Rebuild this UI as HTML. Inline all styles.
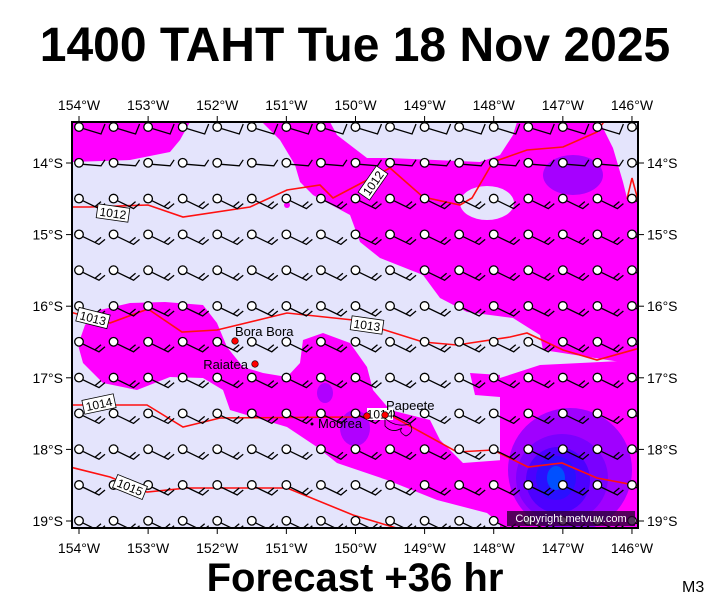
<!DOCTYPE html>
<html><head><meta charset="utf-8"><style>
html,body{margin:0;padding:0;background:#fff;}
svg{display:block;font-family:"Liberation Sans",sans-serif;}
</style></head><body>
<svg id="s" width="711" height="600" viewBox="0 0 711 600" xmlns="http://www.w3.org/2000/svg">
<defs><clipPath id="c"><rect x="72" y="122" width="566" height="406"/></clipPath></defs>
<text x="355" y="61" font-size="48" font-weight="bold" text-anchor="middle">1400 TAHT Tue 18 Nov 2025</text>
<g clip-path="url(#c)">
<rect x="72" y="122" width="566" height="406" fill="#e4e4fc"/>
<g fill="#ff00ff">
<polygon points="72,122 190,122 180,140 170,152 130,160 72,162"/>
<polygon points="262,122 330,122 337,135 367,158 390,158 480,162 500,155 513,135 517,122 600,122 613,148 623,182 627,198 640,200 640,365 543,350 540,335 513,318 467,312 440,298 423,275 380,258 360,242 350,215 313,195 300,182 295,165 280,140"/>
<polygon points="78,345 85,325 100,310 130,303 165,302 203,305 217,323 227,347 243,367 263,373 287,377 300,363 303,340 323,333 350,343 367,367 373,390 390,410 430,420 440,440 463,463 503,460 505,528 487,513 437,500 387,480 337,463 317,447 287,427 230,410 223,390 203,378 170,377 137,390 103,383 83,363"/>
<polygon points="500,378 540,365 640,360 640,528 500,528"/>
<polygon points="470,373 500,375 500,397 475,395"/>
</g>
<ellipse cx="487" cy="203" rx="27" ry="17" fill="#e4e4fc"/>
<ellipse cx="573" cy="175" rx="30" ry="20" fill="#a600ff"/>
<ellipse cx="355" cy="428" rx="15" ry="18" fill="#b000ff"/>
<ellipse cx="325" cy="393" rx="8" ry="10" fill="#b000ff"/>
<ellipse cx="287" cy="205" rx="3" ry="3" fill="#ff00ff"/>
<ellipse cx="570" cy="470" rx="62" ry="62" fill="#a000ff"/>
<ellipse cx="562" cy="478" rx="46" ry="44" fill="#7a00ff"/>
<ellipse cx="558" cy="480" rx="32" ry="33" fill="#4c00ff"/>
<ellipse cx="556" cy="478" rx="20" ry="22" fill="#2a10ff"/>
<ellipse cx="556" cy="478" rx="9" ry="12" fill="#0050ff"/>
<g fill="none" stroke="#ff1010" stroke-width="1.6">
<polyline points="70,207 90,207 148,205 183,217 250,207 287,190 320,185 333,198 390,168 423,197 460,205 472,198 493,162 527,150 563,147 597,132 605,120"/>
<polyline points="70,312 110,323 148,309 182,332 217,330 287,313 353,320 423,342 457,345 510,337 527,333 563,350 597,360 640,348"/>
<polyline points="70,405 147,405 183,427 220,418 353,417 390,415 457,452 493,450 528,467 562,463 597,478 640,486"/>
<polyline points="70,467 110,477 147,492 187,488 287,488 353,515 403,530"/>
<polyline points="627,199 632,178 638,200 627,199"/>
</g>
<g id="barbs" stroke="#000" stroke-width="1.3" fill="none"></g>
<g font-size="12">
<g transform="translate(113,213) rotate(8)"><rect x="-16" y="-7" width="32" height="14" fill="#fff" stroke="#000" stroke-width="0.8"/><text x="0" y="4.5" text-anchor="middle">1012</text></g>
<g transform="translate(373,183) rotate(-55)"><rect x="-16" y="-7" width="32" height="14" fill="#fff" stroke="#000" stroke-width="0.8"/><text x="0" y="4.5" text-anchor="middle">1012</text></g>
<g transform="translate(93,318) rotate(14)"><rect x="-16" y="-7" width="32" height="14" fill="#fff" stroke="#000" stroke-width="0.8"/><text x="0" y="4.5" text-anchor="middle">1013</text></g>
<g transform="translate(367,325) rotate(8)"><rect x="-16" y="-7" width="32" height="14" fill="#fff" stroke="#000" stroke-width="0.8"/><text x="0" y="4.5" text-anchor="middle">1013</text></g>
<g transform="translate(99,404) rotate(-12)"><rect x="-16" y="-7" width="32" height="14" fill="#fff" stroke="#000" stroke-width="0.8"/><text x="0" y="4.5" text-anchor="middle">1014</text></g>
<g transform="translate(130,487) rotate(22)"><rect x="-16" y="-7" width="32" height="14" fill="#fff" stroke="#000" stroke-width="0.8"/><text x="0" y="4.5" text-anchor="middle">1015</text></g>
<g transform="translate(380,414)"><rect x="-13" y="-6" width="26" height="12" fill="#fff"/><text x="0" y="4.5" text-anchor="middle">1014</text></g>
</g>
<g fill="#f00" stroke="#000" stroke-width="0.6">
<circle cx="235" cy="341" r="3.3"/><circle cx="255" cy="364" r="3.3"/><circle cx="367" cy="416" r="3.3"/><circle cx="385" cy="415" r="3.3"/>
</g>
<circle cx="312" cy="424" r="1.5" fill="#000"/>
<path d="M385,418 q10,10 25,6 q5,8 -4,12 q-8,-4 -4,-8 q-10,6 -17,-2z" fill="none" stroke="#000" stroke-width="0.8"/>
<g font-size="13">
<text x="235" y="336">Bora Bora</text>
<text x="248" y="369" text-anchor="end">Raiatea</text>
<text x="318" y="428">Moorea</text>
<text x="386" y="410">Papeete</text>
</g>
<rect x="507" y="511" width="128" height="15" fill="#2a0033" opacity="0.8"/>
<text x="571" y="522" font-size="11" fill="#fff" text-anchor="middle">Copyright metvuw.com</text>
</g>
<rect x="72" y="122" width="566" height="406" fill="none" stroke="#000" stroke-width="2"/>
<g id="ticks" stroke="#000" stroke-width="1"></g>
<g id="labels" font-size="14"></g>
<text x="355" y="591" font-size="40" font-weight="bold" text-anchor="middle">Forecast +36 hr</text>
<text x="682" y="592" font-size="16">M3</text>
</svg>
<script>
var NS="http://www.w3.org/2000/svg";
function el(p,t,a,txt){var e=document.createElementNS(NS,t);for(var k in a)e.setAttribute(k,a[k]);if(txt)e.textContent=txt;document.getElementById(p).appendChild(e);}
for(var r=0;r<12;r++){for(var i=0;i<17;i++){var x=79+34.56*i,y=127+35.8*r;
 if(r<2){el("barbs","path",{d:"M"+(x+4)+","+(y+1.5)+" L"+(x+22)+","+(y+(r==0?7:3))+" L"+(x+26)+","+(y-3)});}
 else{el("barbs","path",{d:"M"+(x+3.5)+","+(y+2)+" L"+(x+20)+","+(y+10)+" L"+(x+26)+","+(y+5)+" M"+(x+16)+","+(y+8)+" L"+(x+22)+","+(y+3)});}
 el("barbs","circle",{cx:x,cy:y,r:4.3,fill:"#fff"});}}
for(var i=0;i<=8;i++){var x=79+69.12*i;
 el("ticks","line",{x1:x,y1:122,x2:x,y2:116});el("ticks","line",{x1:x,y1:528,x2:x,y2:534});
 el("labels","text",{x:x,y:110,"text-anchor":"middle"},(154-i)+"°W");
 el("labels","text",{x:x,y:553,"text-anchor":"middle"},(154-i)+"°W");}
for(var j=0;j<=5;j++){var y=163+71.6*j;
 el("ticks","line",{x1:72,y1:y,x2:66,y2:y});el("ticks","line",{x1:638,y1:y,x2:644,y2:y});
 el("labels","text",{x:63,y:y+5,"text-anchor":"end"},(14+j)+"°S");
 el("labels","text",{x:647,y:y+5},(14+j)+"°S");}
</script>
</body></html>
